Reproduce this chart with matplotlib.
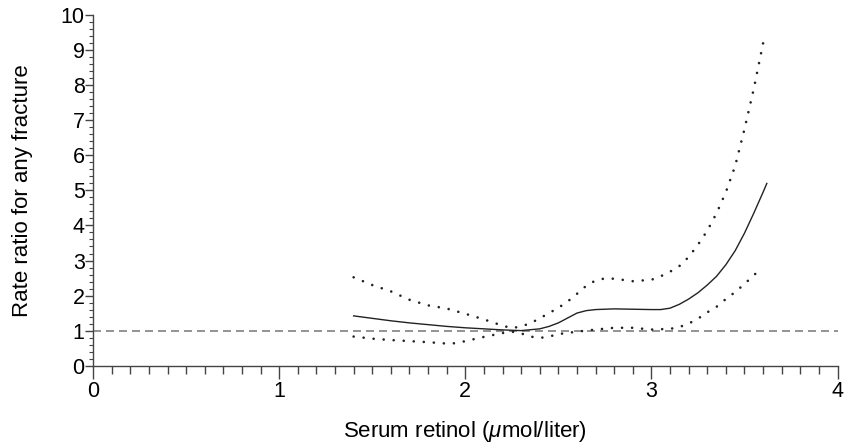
import matplotlib
matplotlib.use("Agg")
import matplotlib.pyplot as plt
from matplotlib.ticker import MultipleLocator

plt.rcParams['font.family'] = ['Liberation Sans', 'DejaVu Sans']
plt.rcParams['mathtext.fontset'] = 'custom'
plt.rcParams['mathtext.rm'] = 'Liberation Sans'
plt.rcParams['mathtext.it'] = 'Liberation Sans:italic'

# Estimated rate ratio curve (solid)
est_x = [1.40, 1.50, 1.60, 1.70, 1.80, 1.90, 2.00, 2.10, 2.20, 2.30, 2.40, 2.45,
         2.50, 2.55, 2.60, 2.65, 2.70, 2.80, 2.90, 3.00, 3.05, 3.10, 3.15, 3.20,
         3.25, 3.30, 3.35, 3.40, 3.45, 3.50, 3.55, 3.60, 3.62]
est_y = [1.42, 1.35, 1.28, 1.22, 1.17, 1.12, 1.08, 1.05, 1.02, 1.00, 1.05, 1.12,
         1.22, 1.36, 1.50, 1.57, 1.60, 1.62, 1.61, 1.60, 1.60, 1.64, 1.75, 1.90,
         2.08, 2.30, 2.55, 2.88, 3.28, 3.78, 4.35, 4.95, 5.20]

# Upper confidence limit (dotted)
up_x = [1.40, 1.50, 1.60, 1.70, 1.80, 1.90, 2.00, 2.10, 2.20, 2.25, 2.30, 2.35,
        2.40, 2.45, 2.50, 2.55, 2.60, 2.65, 2.70, 2.75, 2.80, 2.90, 3.00, 3.05,
        3.10, 3.15, 3.20, 3.25, 3.30, 3.35, 3.40, 3.45, 3.50, 3.55, 3.60]
up_y = [2.52, 2.30, 2.12, 1.88, 1.72, 1.63, 1.48, 1.32, 1.14, 1.07, 1.12, 1.21,
        1.35, 1.50, 1.65, 1.83, 2.05, 2.28, 2.43, 2.49, 2.48, 2.41, 2.45, 2.55,
        2.68, 2.84, 3.10, 3.45, 3.85, 4.35, 4.95, 5.70, 6.75, 7.90, 9.20]

# Lower confidence limit (dotted)
lo_x = [1.40, 1.50, 1.60, 1.70, 1.80, 1.90, 1.95, 2.00, 2.10, 2.20, 2.25, 2.30,
        2.35, 2.40, 2.45, 2.50, 2.60, 2.70, 2.80, 2.90, 3.00, 3.10, 3.15, 3.20,
        3.25, 3.30, 3.35, 3.40, 3.45, 3.50, 3.55, 3.58]
lo_y = [0.83, 0.77, 0.73, 0.70, 0.67, 0.63, 0.64, 0.70, 0.82, 0.93, 0.97, 0.92,
        0.83, 0.79, 0.83, 0.90, 0.97, 1.03, 1.08, 1.08, 1.03, 1.05, 1.10, 1.20,
        1.34, 1.52, 1.68, 1.90, 2.10, 2.33, 2.58, 2.72]

ref_level = 1.0
x_ticks = [0, 1, 2, 3, 4]
y_ticks = list(range(0, 11))

fig = plt.figure(figsize=(8.46, 4.47), dpi=100)
ax = fig.add_axes([0.110, 0.182, 0.880, 0.784])

ax.axhline(ref_level, color='#808080', lw=1.2, linestyle=(0, (4.8, 3.0)), zorder=1)
ax.plot(est_x, est_y, color='#222222', lw=1.0, zorder=3)
dot = (0, (0.01, 3.8))
ax.plot(up_x, up_y, color='#222222', lw=1.9, linestyle=dot, dash_capstyle='round', zorder=2)
ax.plot(lo_x, lo_y, color='#222222', lw=1.9, linestyle=dot, dash_capstyle='round', zorder=2)

ax.set_xlim(0, 4)
ax.set_ylim(0, 10)
ax.set_xticks(x_ticks)
ax.set_yticks(y_ticks)
ax.xaxis.set_minor_locator(MultipleLocator(0.1))
ax.yaxis.set_minor_locator(MultipleLocator(0.2))

for s in ['top', 'right']:
    ax.spines[s].set_visible(False)
for s in ['left', 'bottom']:
    ax.spines[s].set_color('#444444')
    ax.spines[s].set_linewidth(1.0)

ax.tick_params(axis='x', which='major', direction='out', length=9, width=1.0, color='#444444',
               labelsize=15.5, pad=2)
ax.tick_params(axis='x', which='minor', direction='out', length=5.5, width=1.0, color='#444444')
ax.tick_params(axis='y', which='major', direction='out', length=6, width=1.0, color='#444444',
               labelsize=15.5, pad=0)
ax.tick_params(axis='y', which='minor', direction='out', length=3, width=0.8, color='#444444')

ax.set_xlabel(r'Serum retinol ($\mu$mol/liter)', fontsize=16, labelpad=12)
ax.set_ylabel('Rate ratio for any fracture', fontsize=16, labelpad=20)

fig.savefig('out.png', dpi=100)
